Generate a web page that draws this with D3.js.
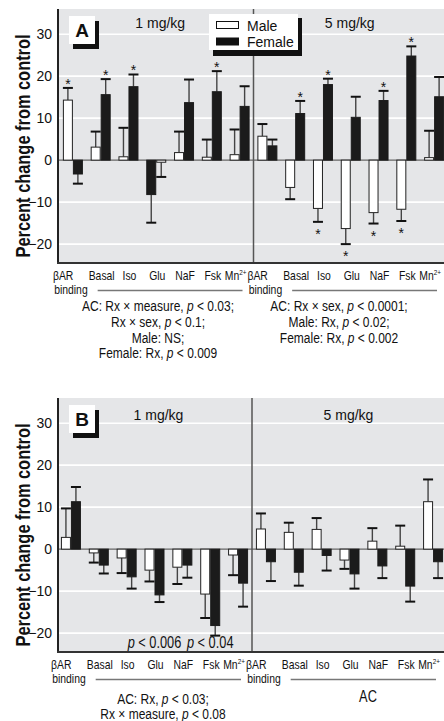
<!DOCTYPE html>
<html><head><meta charset="utf-8">
<script src="https://cdn.jsdelivr.net/npm/d3@7"></script>
<style>
body{margin:0;background:#fff;}
svg{display:block;}
text{font-family:"Liberation Sans",Arial,sans-serif;fill:#111;}
</style></head><body>
<svg id="chart" width="444" height="721"></svg>
<script>
// ---------- data ----------
const measures = ["βAR", "Basal", "Iso", "Glu", "NaF", "Fsk", "Mn"];
const doses = ["1 mg/kg", "5 mg/kg"];
const categories = doses.flatMap(d => measures.map(m => d + "|" + m));
const yTicks = [-20, -10, 0, 10, 20, 30];
const yTickLabels = ["−20", "−10", "0", "10", "20", "30"];
const series = ["Male", "Female"];

// Panel A (bar value, error-bar tip)
const aMale      = [14.3, 3.1, 0.8, -0.5, 1.8, 0.7, 1.3,   5.7, -6.5, -11.5, -16.3, -12.5, -11.7, 0.6];
const aMaleErr   = [17.2, 6.8, 7.7, -4.0, 6.8, 4.9, 7.3,   8.6, -9.3, -14.7, -20.0, -15.1, -14.5, 7.0];
const aFemale    = [-3.3, 15.6, 17.5, -8.2, 13.7, 16.3, 12.8,   3.4, 11.1, 18.0, 10.2, 14.2, 24.8, 15.1];
const aFemaleErr = [-5.6, 19.3, 20.4, -14.9, 19.2, 21.2, 17.6,  4.9, 14.1, 19.4, 15.1, 16.5, 27.1, 19.8];
const aMaleStar   = [1,0,0,0,0,0,0, 0,0,1,1,1,1,0];
const aFemaleStar = [0,1,1,0,0,1,0, 0,1,1,0,1,1,0];
const aFemaleFirst = ["1 mg/kg|Glu"];

// Panel B
const bMale      = [2.8, -0.9, -2.1, -5.0, -4.3, -10.7, -1.4,   4.8, 4.0, 4.7, -2.6, 1.9, 0.7, 11.3];
const bMaleErr   = [9.7, -3.2, -5.7, -7.7, -8.3, -16.4, -6.2,   8.5, 6.3, 7.4, -4.7, 5.0, 5.6, 16.6];
const bFemale    = [11.3, -3.8, -6.6, -10.9, -3.8, -18.2, -8.1,  -3.0, -5.5, -1.5, -5.9, -4.0, -8.8, -3.0];
const bFemaleErr = [14.8, -5.8, -9.4, -12.6, -6.8, -20.6, -13.7, -7.6, -8.7, -5.1, -9.4, -6.9, -12.5, -6.9];

const aNotesLeft  = ["AC: Rx × measure, p < 0.03;", "Rx × sex, p < 0.1;", "Male: NS;", "Female: Rx, p < 0.009"];
const aNotesRight = ["AC: Rx × sex, p < 0.0001;", "Male: Rx, p < 0.02;", "Female: Rx, p < 0.002"];
const bNotesLeft  = ["AC: Rx, p < 0.03;", "Rx × measure, p < 0.08"];
const bInnerNotes = [{cat: "1 mg/kg|Glu", text: "p < 0.006"}, {cat: "1 mg/kg|Fsk", text: "p < 0.04"}];

// ---------- layout ----------
const svg = d3.select("#chart");
const W = 444;
const axisX = 58;
const yDomain = [-24.5, 36];
const COND = 0.8;   // horizontal squeeze emulating a condensed face

const panels = [
  {letter: "A", top: 9, bottom: 263, xr: [59, 448], doseY: 28,
   male: aMale, maleErr: aMaleErr, female: aFemale, femaleErr: aFemaleErr,
   maleStar: aMaleStar, femaleStar: aFemaleStar, femaleFirst: aFemaleFirst, legend: true},
  {letter: "B", top: 398, bottom: 652, xr: [57, 447], doseY: 420,
   male: bMale, maleErr: bMaleErr, female: bFemale, femaleErr: bFemaleErr,
   maleStar: null, femaleStar: null, femaleFirst: [], legend: false}
];

function richText(sel, str) {
  str.split(/(\bp\b)/).forEach(part => {
    const t = sel.append("tspan").text(part);
    if (part === "p") t.attr("font-style", "italic");
  });
}
function condText(parent, x, y, size, anchor, rot) {
  return parent.append("text")
    .attr("transform", `translate(${x},${y})${rot ? " rotate(" + rot + ")" : ""} scale(${COND},1)`)
    .attr("text-anchor", anchor).attr("font-size", size);
}

panels.forEach(P => {
  const g = svg.append("g");
  const x = d3.scaleBand().domain(categories).range(P.xr).padding(0);
  const y = d3.scaleLinear().domain(yDomain).range([P.bottom, P.top]);
  const sub = d3.scaleBand().domain(series).range([0, 20]);
  const cx = c => x(c) + x.bandwidth() / 2;

  // background
  g.append("rect").attr("x", axisX).attr("y", P.top).attr("width", W - axisX).attr("height", P.bottom - P.top)
    .attr("fill", "#e5e6e8");
  // gridlines
  g.selectAll(".grid").data(yTicks.filter(v => v !== 0)).join("line")
    .attr("x1", axisX).attr("x2", W).attr("y1", d => y(d)).attr("y2", d => y(d))
    .attr("stroke", "#fff").attr("stroke-width", 1.6);
  // zero line
  g.append("line").attr("x1", axisX).attr("x2", W).attr("y1", y(0)).attr("y2", y(0))
    .attr("stroke", "#666").attr("stroke-width", 1.2);
  // divider
  const divX = x(categories[measures.length]);
  g.append("line").attr("x1", divX).attr("x2", divX).attr("y1", P.top).attr("y2", P.bottom)
    .attr("stroke", "#555").attr("stroke-width", 1.5);

  // dose labels
  [0, 1].forEach(k => {
    const c0 = x(categories[k * 7]), c1 = x(categories[k * 7 + 6]) + x.bandwidth();
    g.append("text").attr("x", k === 0 ? (c0 + c1) / 2 + 4 : (c0 + c1) / 2 - 1).attr("y", P.doseY)
      .attr("text-anchor", "middle").attr("font-size", 14).text(doses[k]);
  });

  // bars
  categories.forEach((c, i) => {
    const order = P.femaleFirst.includes(c) ? ["Female", "Male"] : series;
    const items = [
      {s: "Male", v: P.male[i], e: P.maleErr[i], star: P.maleStar ? P.maleStar[i] : 0},
      {s: "Female", v: P.female[i], e: P.femaleErr[i], star: P.femaleStar ? P.femaleStar[i] : 0}
    ];
    items.forEach(it => {
      const bx = cx(c) - 10 + sub(order[series.indexOf(it.s)]);
      const w = sub.bandwidth();
      g.append("line").attr("x1", bx + w / 2).attr("x2", bx + w / 2)
        .attr("y1", y(it.v)).attr("y2", y(it.e)).attr("stroke", "#444").attr("stroke-width", 1.4);
      g.append("line").attr("x1", bx).attr("x2", bx + w).attr("y1", y(it.e)).attr("y2", y(it.e))
        .attr("stroke", "#111").attr("stroke-width", 2);
      g.append("rect").attr("x", bx + 0.5).attr("width", w - 1)
        .attr("y", Math.min(y(it.v), y(0))).attr("height", Math.abs(y(it.v) - y(0)))
        .attr("fill", it.s === "Male" ? "#fff" : "#1b1b1b")
        .attr("stroke", it.s === "Male" ? "#222" : "#1b1b1b").attr("stroke-width", 1);
      if (it.star) {
        const up = it.e > 0;
        g.append("text").attr("x", bx + w / 2).attr("y", up ? y(it.e) + 1 : y(it.e) + 17)
          .attr("text-anchor", "middle").attr("font-size", 14).attr("fill", "#555").text("*");
      }
    });
  });

  // axes frame
  g.append("line").attr("x1", axisX).attr("x2", axisX).attr("y1", P.top).attr("y2", P.bottom)
    .attr("stroke", "#222").attr("stroke-width", 2);
  g.append("line").attr("x1", axisX - 1).attr("x2", W).attr("y1", P.bottom).attr("y2", P.bottom)
    .attr("stroke", "#333").attr("stroke-width", 2);

  // y axis labels
  const ax = d3.axisLeft(y).tickValues(yTicks).tickSize(0).tickPadding(6)
    .tickFormat(d => yTickLabels[yTicks.indexOf(d)]);
  const axg = g.append("g").attr("transform", `translate(${axisX},0)`).call(ax);
  axg.select(".domain").remove();
  axg.selectAll("text").attr("font-size", 14).attr("font-family", "Liberation Sans, Arial, sans-serif").attr("fill", "#111");

  // y title (condensed bold)
  condText(g, 30, (P.top + P.bottom) / 2 + 10, 20.5, "middle", -90)
    .attr("font-weight", "bold").text("Percent change from control");

  // panel letter box
  const lb = {x: 69, y: P.top + 7, w: 26, h: 28};
  g.append("rect").attr("x", lb.x + 4).attr("y", lb.y + 5).attr("width", lb.w).attr("height", lb.h).attr("fill", "#111");
  g.append("rect").attr("x", lb.x).attr("y", lb.y).attr("width", lb.w).attr("height", lb.h).attr("fill", "#fff");
  g.append("text").attr("x", lb.x + lb.w / 2).attr("y", lb.y + 21).attr("text-anchor", "middle")
    .attr("font-size", 19).attr("font-weight", "bold").text(P.letter);

  // category labels
  const labY = P.bottom + 16.5;
  categories.forEach((c, i) => {
    const m = measures[i % 7];
    const isB = m === "βAR";
    const lx = isB ? cx(c) + 0.5 : (m === "Mn" ? cx(c) - 4 : cx(c) + 1);
    const t = condText(g, lx, labY, 13, isB ? "end" : "middle");
    if (m === "Mn") {
      t.append("tspan").text("Mn");
      t.append("tspan").attr("font-size", 8).attr("dy", -5).text("2+");
    } else t.text(m);
    if (isB) {
      const b = condText(g, cx(c) - 2, P.bottom + 31, 13, "middle").text("binding");
      const bw = b.node().getComputedTextLength() * COND;
      const endC = categories[i + 6];
      g.append("line").attr("x1", cx(c) - 2 + bw / 2 + 10).attr("x2", x(endC) + x.bandwidth() - 11)
        .attr("y1", P.bottom + 27.5).attr("y2", P.bottom + 27.5).attr("stroke", "#777").attr("stroke-width", 1.5);
    }
  });

  // legend
  if (P.legend) {
    g.append("rect").attr("x", 213).attr("y", 18).attr("width", 89).attr("height", 38).attr("fill", "#111");
    g.append("rect").attr("x", 209).attr("y", 14).attr("width", 89).attr("height", 36).attr("fill", "#fff");
    g.append("rect").attr("x", 216.5).attr("y", 21.5).attr("width", 22).attr("height", 7).attr("fill", "#fff")
      .attr("stroke", "#111").attr("stroke-width", 1);
    g.append("rect").attr("x", 216).attr("y", 37.5).attr("width", 23).attr("height", 8).attr("fill", "#111");
    g.append("text").attr("x", 247).attr("y", 30.5).attr("font-size", 14).text(series[0]);
    g.append("text").attr("x", 247).attr("y", 46.5).attr("font-size", 14).text(series[1]);
  }

  if (P.letter === "B") {
    bInnerNotes.forEach(n => {
      const t = condText(g, cx(n.cat), P.bottom - 4, 16, "middle");
      richText(t, n.text);
    });
  }
});

// notes under panels
function notes(lines, cxp, y0, dy, size) {
  lines.forEach((l, i) => {
    const t = condText(svg, cxp, y0 + i * dy, size, "middle");
    richText(t, l);
  });
}
notes(aNotesLeft, 158, 311, 15.8, 15);
notes(aNotesRight, 339, 311, 15.8, 15);
notes(bNotesLeft, 163, 704, 15, 15);
condText(svg, 368, 702, 16, "middle").text("AC");
</script>
</body></html>
